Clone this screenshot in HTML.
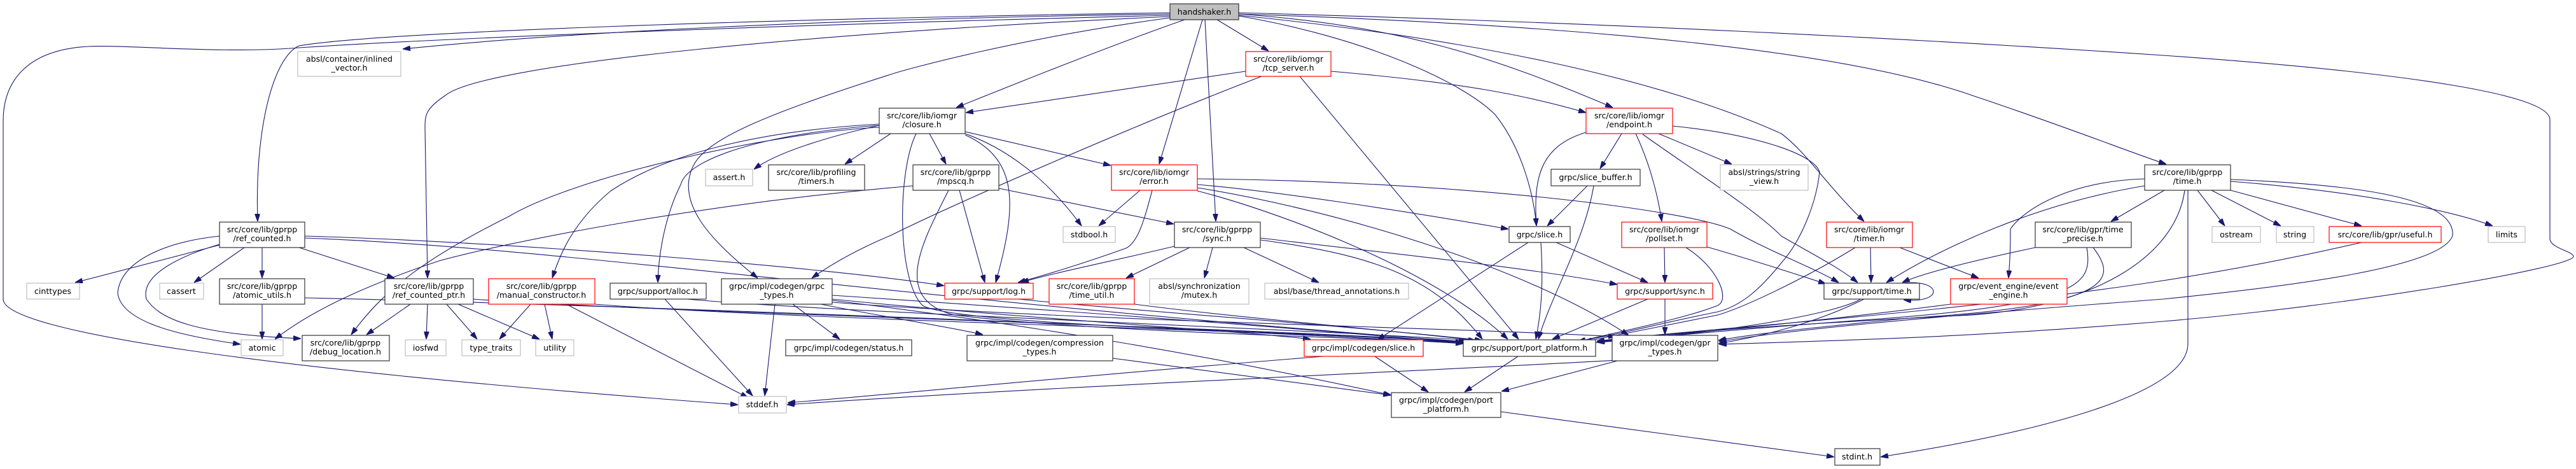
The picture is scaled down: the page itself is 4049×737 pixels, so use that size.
<!DOCTYPE html>
<html><head><meta charset="utf-8"><style>
html,body{margin:0;padding:0;background:#fff;}
svg{display:block;}
text{font-family:"DejaVu Sans","Liberation Sans",sans-serif;font-size:12.6px;fill:#000;text-anchor:middle;}
.b{fill:#fff;stroke:#333;stroke-width:1.2}
.r{fill:#fff;stroke:#f00;stroke-width:1.2}
.g{fill:#fff;stroke:#bfbfbf;stroke-width:1.2}
path{fill:none;stroke:#191970;stroke-width:1.1}
</style></head><body>
<svg width="4049" height="737" viewBox="0 0 4049 737" xmlns="http://www.w3.org/2000/svg">
<defs><marker id="a" markerWidth="12" markerHeight="8" refX="12" refY="4" orient="auto" markerUnits="userSpaceOnUse"><path d="M0,0 L12,4 L0,8 z" style="fill:#191970;stroke:#191970;stroke-width:1"/></marker></defs>
<g marker-end="url(#a)">
<!-- handshaker -->
<path d="M1839,22 C1300,30 900,50 633,77"/>
<path d="M1839,20 C1200,30 600,50 470,72 C430,90 400,200 405,348"/>
<path d="M1839,24 C1200,40 700,60 470,75 C350,85 200,70 140,73 C40,78 5,130 5,190 L5,470 C5,520 400,580 1160,636"/>
<path d="M1839,26 C1300,50 760,100 700,150 C670,170 668,180 668,200 L672,437"/>
<path d="M1862,31 C1750,70 1600,130 1503,169"/>
<path d="M1839,28 C1600,60 1420,110 1400,117 C1200,180 1110,220 1090,260 C1060,320 1120,380 1191,437"/>
<path d="M1890,31 L1822,258"/>
<path d="M1894,31 L1911,348"/>
<path d="M1913,31 L1994,80"/>
<path d="M1947,22 C2200,40 2350,90 2535,169"/>
<path d="M1947,25 C2150,60 2300,130 2350,180 C2390,230 2410,300 2415,355"/>
<path d="M1947,24 C2300,60 2600,120 2800,210 C2840,240 2870,290 2930,348"/>
<path d="M1947,22 C2500,40 2900,80 3100,150 C3250,200 3350,240 3405,258"/>
<path d="M1947,20 C2500,35 3000,60 3400,87 C3800,115 4008,150 4008,188 L4008,375 C4008,390 4045,395 4045,403 C4045,420 3700,480 3400,505 C3100,530 2900,535 2702,541"/>
<!-- tcp_server -->
<path d="M1958,112 L1518,177"/>
<path d="M2092,112 C2300,130 2400,150 2493,177"/>
<path d="M1983,120 C1800,190 1500,320 1400,370 C1340,395 1300,420 1276,437"/>
<path d="M2043,120 L2387,533"/>
<!-- closure -->
<path d="M1382,197 C1300,215 1220,240 1185,266"/>
<path d="M1400,210 L1328,258"/>
<path d="M1461,210 L1487,258"/>
<path d="M1517,207 L1746,260"/>
<path d="M1517,210 C1600,240 1660,300 1700,355"/>
<path d="M1517,212 C1600,250 1600,320 1565,444"/>
<path d="M1440,210 C1410,270 1410,440 1450,480 C1500,510 2000,520 2300,540"/>
<path d="M1382,195 C1200,205 1050,240 960,300 C900,350 880,400 868,437"/>
<path d="M1382,197 C1200,210 1080,250 1070,290 C1045,340 1035,400 1034,444"/>
<path d="M1382,200 C1200,210 900,280 800,340 C660,410 600,460 552,526"/>
<!-- mpscq -->
<path d="M1435,292 C1100,320 800,380 690,410 C600,440 500,480 432,533"/>
<path d="M1508,299 L1548,444"/>
<path d="M1570,296 L1845,352"/>
<path d="M1491,299 C1450,380 1400,470 1500,495 C1700,520 2100,530 2300,538"/>
<!-- error -->
<path d="M1792,299 L1727,355"/>
<path d="M1811,299 C1800,340 1790,380 1770,390 C1700,415 1650,430 1600,444"/>
<path d="M1882,281 C2300,285 2650,330 2720,360 C2780,395 2850,420 2890,444"/>
<path d="M1882,290 C2000,300 2200,330 2371,360"/>
<path d="M1882,300 C2000,330 2250,420 2370,533"/>
<path d="M1882,295 C2100,330 2400,420 2560,527"/>
<!-- sync gprpp -->
<path d="M1846,387 C1750,410 1650,430 1605,444"/>
<path d="M1870,389 L1770,437"/>
<path d="M1906,389 L1893,437"/>
<path d="M1955,389 L2073,444"/>
<path d="M1981,377 C2150,400 2250,430 2330,533"/>
<path d="M1981,374 C2200,400 2400,420 2542,447"/>
<!-- leaves to port -->
<path d="M1600,470 C1800,490 2100,510 2330,535"/>
<path d="M1783,478 C1950,500 2200,520 2330,536"/>
<path d="M1080,470 C1300,490 2000,515 2320,535"/>
<path d="M1045,470 L1183,622"/>
<path d="M834,478 L785,533"/>
<path d="M856,478 L868,533"/>
<path d="M890,478 L1176,625"/>
<path d="M935,478 C1200,500 2000,520 2310,537"/>
<path d="M702,478 L750,533"/>
<path d="M720,478 L848,533"/>
<path d="M672,478 L670,533"/>
<path d="M645,478 L576,526"/>
<path d="M744,470 C1000,490 2000,515 2305,538"/>
<path d="M1218,478 L1202,622"/>
<path d="M1246,478 L1320,533"/>
<path d="M1290,478 C1400,500 1500,515 1545,526"/>
<path d="M1308,464 C1700,490 2100,520 2300,540"/>
<path d="M1308,470 C1600,500 1950,520 2060,533"/>
<path d="M1308,475 C1700,505 2300,515 2540,529"/>
<path d="M1308,472 C1700,520 2000,580 2187,621"/>
<path d="M412,478 L412,533"/>
<path d="M479,468 C1000,480 2000,520 2305,538"/>
<!-- ref_counted -->
<path d="M345,385 L118,444"/>
<path d="M384,389 L305,444"/>
<path d="M412,389 L412,437"/>
<path d="M470,389 L620,437"/>
<path d="M345,371 C260,380 190,410 185,460 C190,510 300,530 378,541"/>
<path d="M345,384 C290,400 220,430 230,470 C250,500 300,525 473,532"/>
<path d="M479,371 C800,380 1300,420 1484,449"/>
<path d="M479,374 C900,390 1400,470 2305,537"/>
<!-- endpoint etc -->
<path d="M2495,292 L2432,355"/>
<path d="M2505,292 C2490,380 2440,460 2418,533"/>
<path d="M2493,208 C2420,230 2410,280 2415,355"/>
<path d="M2549,210 L2515,265"/>
<path d="M2571,210 C2590,250 2605,300 2612,348"/>
<path d="M2607,210 L2722,258"/>
<path d="M2582,211 C2650,260 2760,330 2800,371 C2850,400 2890,420 2920,444"/>
<path d="M2629,198 C2750,210 2850,240 2860,270 C2855,320 2830,380 2800,413 C2770,450 2740,480 2700,490 C2600,510 2550,525 2480,536"/>
<path d="M2616,389 L2617,444"/>
<path d="M2650,389 C2700,420 2720,470 2700,480 C2650,500 2550,520 2480,537"/>
<path d="M2683,388 C2760,410 2820,430 2870,446"/>
<path d="M2402,381 L2165,534"/>
<path d="M2422,381 C2425,430 2425,480 2414,533"/>
<path d="M2446,381 L2590,444"/>
<path d="M2590,470 L2440,533"/>
<path d="M2617,470 L2617,526"/>
<path d="M2386,560 L2302,616"/>
<path d="M2542,566 C2300,580 1600,610 1237,636"/>
<path d="M2542,567 L2360,615"/>
<path d="M2080,560 C1700,590 1400,620 1238,633"/>
<path d="M2161,560 L2245,616"/>
<path d="M1749,563 L2186,621"/>
<path d="M2359,647 L2883,718"/>
<!-- time -->
<path d="M2990,445 C3055,438 3055,478 2992,471"/>
<path d="M2925,470 C2880,495 2700,525 2485,540"/>
<path d="M2930,470 C2850,510 2760,530 2701,540"/>
<path d="M2940,389 L2941,444"/>
<path d="M2986,389 L3110,437"/>
<path d="M2916,389 C2850,430 2750,480 2700,495 C2600,515 2550,525 2490,537"/>
<path d="M3066,478 C2900,500 2700,520 2510,537"/>
<path d="M3199,389 C3100,410 3020,430 2990,444"/>
<path d="M3280,389 C3290,450 3270,480 2900,505 C2700,520 2600,530 2510,538"/>
<path d="M3290,389 C3330,440 3320,480 3000,500 C2850,515 2750,525 2701,535"/>
<path d="M3371,292 C3200,320 3050,390 2965,444"/>
<path d="M3371,281 C3250,285 3180,330 3160,360 C3160,380 3160,400 3157,437"/>
<path d="M3402,299 L3318,348"/>
<path d="M3454,299 L3497,355"/>
<path d="M3476,299 L3585,355"/>
<path d="M3506,299 L3712,355"/>
<path d="M3506,285 C3700,300 3850,330 3918,355"/>
<path d="M3439,299 L3439,540 C3439,620 3200,680 2956,718"/>
<path d="M3434,299 C3420,400 3300,480 3100,495 C2800,510 2600,525 2510,537"/>
<path d="M3506,282 C3700,290 3860,310 3855,370 C3840,420 3600,450 3400,470 C3000,500 2800,520 2702,537"/>
<path d="M3712,381 C3500,430 3300,460 3000,490 C2800,510 2600,525 2510,536"/>
</g>
<!-- nodes -->
<rect x="1839" y="6" width="108" height="25" style="fill:#bfbfbf;stroke:#333;stroke-width:1.2"/><text x="1893" y="23">handshaker.h</text>
<rect class="g" x="468" y="81" width="162" height="39"/><text x="549" y="97">absl/container/inlined</text><text x="549" y="111">_vector.h</text>
<rect class="b" x="345" y="349" width="134" height="40"/><text x="412" y="365">src/core/lib/gprpp</text><text x="412" y="379">/ref_counted.h</text>
<rect class="g" x="42" y="445" width="83" height="25"/><text x="83" y="462">cinttypes</text>
<rect class="g" x="251" y="445" width="69" height="25"/><text x="285" y="462">cassert</text>
<rect class="b" x="345" y="438" width="134" height="40"/><text x="412" y="454">src/core/lib/gprpp</text><text x="412" y="468">/atomic_utils.h</text>
<rect class="g" x="379" y="534" width="66" height="25"/><text x="412" y="551">atomic</text>
<rect class="b" x="475" y="527" width="137" height="40"/><text x="543" y="543">src/core/lib/gprpp</text><text x="543" y="557">/debug_location.h</text>
<rect class="g" x="637" y="534" width="64" height="25"/><text x="669" y="551">iosfwd</text>
<rect class="b" x="605" y="438" width="139" height="40"/><text x="674" y="454">src/core/lib/gprpp</text><text x="674" y="468">/ref_counted_ptr.h</text>
<rect class="g" x="726" y="534" width="92" height="25"/><text x="772" y="551">type_traits</text>
<rect class="g" x="842" y="534" width="60" height="25"/><text x="872" y="551">utility</text>
<rect class="r" x="768" y="438" width="167" height="40"/><text x="851" y="454">src/core/lib/gprpp</text><text x="851" y="468">/manual_constructor.h</text>
<rect class="b" x="959" y="445" width="151" height="25"/><text x="1034" y="462">grpc/support/alloc.h</text>
<rect class="b" x="1134" y="438" width="174" height="40"/><text x="1221" y="454">grpc/impl/codegen/grpc</text><text x="1221" y="468">_types.h</text>
<rect class="g" x="1161" y="623" width="75" height="26"/><text x="1198" y="640">stddef.h</text>
<rect class="g" x="1109" y="266" width="74" height="26"/><text x="1146" y="283">assert.h</text>
<rect class="b" x="1208" y="259" width="151" height="40"/><text x="1283" y="275">src/core/lib/profiling</text><text x="1283" y="289">/timers.h</text>
<rect class="b" x="1235" y="534" width="198" height="25"/><text x="1334" y="551">grpc/impl/codegen/status.h</text>
<rect class="b" x="1382" y="170" width="135" height="40"/><text x="1449" y="186">src/core/lib/iomgr</text><text x="1449" y="200">/closure.h</text>
<rect class="r" x="1958" y="81" width="134" height="39"/><text x="2025" y="97">src/core/lib/iomgr</text><text x="2025" y="111">/tcp_server.h</text>
<rect class="b" x="1435" y="259" width="135" height="40"/><text x="1502" y="275">src/core/lib/gprpp</text><text x="1502" y="289">/mpscq.h</text>
<rect class="r" x="1747" y="259" width="135" height="40"/><text x="1814" y="275">src/core/lib/iomgr</text><text x="1814" y="289">/error.h</text>
<rect class="g" x="1671" y="356" width="82" height="25"/><text x="1712" y="373">stdbool.h</text>
<rect class="b" x="1846" y="349" width="135" height="40"/><text x="1913" y="365">src/core/lib/gprpp</text><text x="1913" y="379">/sync.h</text>
<rect class="r" x="1485" y="445" width="139" height="25"/><text x="1554" y="462">grpc/support/log.h</text>
<rect class="r" x="1649" y="438" width="134" height="40"/><text x="1716" y="454">src/core/lib/gprpp</text><text x="1716" y="468">/time_util.h</text>
<rect class="g" x="1807" y="438" width="156" height="40"/><text x="1885" y="454">absl/synchronization</text><text x="1885" y="468">/mutex.h</text>
<rect class="g" x="1988" y="445" width="226" height="25"/><text x="2101" y="462">absl/base/thread_annotations.h</text>
<rect class="b" x="1520" y="527" width="229" height="40"/><text x="1634" y="543">grpc/impl/codegen/compression</text><text x="1634" y="557">_types.h</text>
<rect class="r" x="2050" y="534" width="187" height="26"/><text x="2143" y="551">grpc/impl/codegen/slice.h</text>
<rect class="r" x="2493" y="170" width="136" height="40"/><text x="2561" y="186">src/core/lib/iomgr</text><text x="2561" y="200">/endpoint.h</text>
<rect class="b" x="2438" y="266" width="140" height="26"/><text x="2508" y="283">grpc/slice_buffer.h</text>
<rect class="g" x="2704" y="259" width="138" height="40"/><text x="2773" y="275">absl/strings/string</text><text x="2773" y="289">_view.h</text>
<rect class="b" x="2372" y="356" width="96" height="25"/><text x="2420" y="373">grpc/slice.h</text>
<rect class="r" x="2549" y="349" width="134" height="40"/><text x="2616" y="365">src/core/lib/iomgr</text><text x="2616" y="379">/pollset.h</text>
<rect class="r" x="2542" y="445" width="150" height="25"/><text x="2617" y="462">grpc/support/sync.h</text>
<rect class="b" x="2300" y="534" width="208" height="26"/><text x="2404" y="551">grpc/support/port_platform.h</text>
<rect class="b" x="2534" y="527" width="166" height="40"/><text x="2617" y="543">grpc/impl/codegen/gpr</text><text x="2617" y="557">_types.h</text>
<rect class="b" x="2187" y="617" width="172" height="39"/><text x="2273" y="633">grpc/impl/codegen/port</text><text x="2273" y="647">_platform.h</text>
<rect class="r" x="2871" y="349" width="135" height="40"/><text x="2938" y="365">src/core/lib/iomgr</text><text x="2938" y="379">/timer.h</text>
<rect class="b" x="2867" y="445" width="150" height="25"/><text x="2942" y="462">grpc/support/time.h</text>
<rect class="r" x="3066" y="438" width="183" height="40"/><text x="3157" y="454">grpc/event_engine/event</text><text x="3157" y="468">_engine.h</text>
<rect class="b" x="3199" y="349" width="151" height="40"/><text x="3274" y="365">src/core/lib/gpr/time</text><text x="3274" y="379">_precise.h</text>
<rect class="b" x="3371" y="259" width="135" height="40"/><text x="3438" y="275">src/core/lib/gprpp</text><text x="3438" y="289">/time.h</text>
<rect class="b" x="2884" y="705" width="71" height="26"/><text x="2919" y="722">stdint.h</text>
<rect class="g" x="3477" y="356" width="76" height="25"/><text x="3515" y="373">ostream</text>
<rect class="g" x="3578" y="356" width="59" height="25"/><text x="3607" y="373">string</text>
<rect class="r" x="3661" y="356" width="176" height="25"/><text x="3749" y="373">src/core/lib/gpr/useful.h</text>
<rect class="g" x="3911" y="356" width="58" height="25"/><text x="3940" y="373">limits</text>
</svg>
</body></html>
